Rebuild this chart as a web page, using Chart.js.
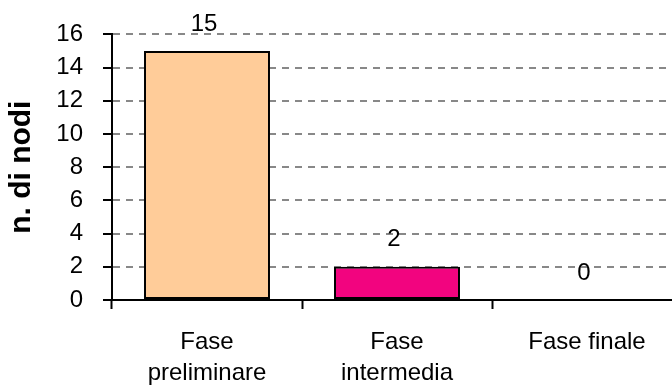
<!DOCTYPE html>
<html>
<head>
<meta charset="utf-8">
<script src="https://cdn.jsdelivr.net/npm/chart.js@4.4.1/dist/chart.umd.min.js"></script>
<style>
  html, body { margin: 0; padding: 0; background: #ffffff; overflow: hidden; }
  #wrap { width: 672px; height: 385px; position: relative; }
</style>
</head>
<body>
<div id="wrap"><canvas id="chart"></canvas></div>
<script>
// Categories (multi-line labels) and counts per phase
const categories = [['Fase', 'preliminare'], ['Fase', 'intermedia'], 'Fase finale'];
const nodeCounts = [15, 2, 0];
const barColors = ['#FFCC99', '#F2047F', '#9999FF'];
const yTicks = [0, 2, 4, 6, 8, 10, 12, 14, 16];

// Width of one category slot in pixels; the last slot runs past the right edge
const SLOT_PX = 190;

// Writes each bar's value above it
const valueLabels = {
  id: 'valueLabels',
  afterDatasetsDraw(chart) {
    const ctx = chart.ctx;
    const meta = chart.getDatasetMeta(0);
    ctx.save();
    ctx.font = '24px "Liberation Sans", Arial, sans-serif';
    ctx.fillStyle = '#000000';
    ctx.textAlign = 'center';
    ctx.textBaseline = 'middle';
    meta.data.forEach((bar, i) => {
      ctx.fillText(String(nodeCounts[i]), bar.x - 3, bar.y - 27);
    });
    ctx.restore();
  }
};

new Chart(document.getElementById('chart'), {
  type: 'bar',
  data: {
    labels: categories,
    datasets: [{
      data: nodeCounts,
      backgroundColor: barColors,
      borderColor: '#000000',
      borderWidth: 2,
      borderSkipped: false,
      categoryPercentage: 1,
      barPercentage: 0.663
    }]
  },
  options: {
    responsive: true,
    maintainAspectRatio: false,
    animation: false,
    layout: { padding: { top: 26, right: 0, bottom: 0, left: 0 } },
    plugins: {
      legend: { display: false },
      tooltip: { enabled: false }
    },
    scales: {
      x: {
        type: 'category',
        afterBuildTicks(scale) {
          // visible span in category units
          scale._valueRange = (scale.chart.width - 112) / SLOT_PX;
        },
        afterFit(scale) { scale.height = 85; },
        grid: {
          offset: true,
          drawOnChartArea: false,
          drawTicks: true,
          tickLength: 9,
          tickColor: '#000000',
          tickWidth: 2
        },
        border: { display: true, color: '#000000', width: 2 },
        ticks: {
          color: '#000000',
          padding: 18,
          maxRotation: 0,
          autoSkip: false,
          font: { family: '"Liberation Sans", Arial, sans-serif', size: 24, lineHeight: 1.3 }
        }
      },
      y: {
        min: 0,
        max: 16,
        afterFit(scale) { scale.width = 112; },
        afterBuildTicks(scale) { scale.ticks = yTicks.map(v => ({ value: v })); },
        title: {
          display: true,
          text: 'n. di nodi',
          color: '#000000',
          padding: { top: 4, bottom: 0 },
          font: { family: '"Liberation Sans Narrow", "Liberation Sans", Arial, sans-serif', weight: 'bold', size: 30 }
        },
        grid: {
          color: '#888888',
          lineWidth: 2,
          drawTicks: true,
          tickLength: 9,
          tickColor: '#000000',
          tickWidth: 2,
          tickBorderDash: []
        },
        border: { display: true, color: '#000000', width: 2, dash: [7, 6] },
        ticks: {
          color: '#000000',
          padding: 20,
          font: { family: '"Liberation Sans", Arial, sans-serif', size: 24 }
        }
      }
    }
  },
  plugins: [valueLabels]
});
</script>
</body>
</html>
